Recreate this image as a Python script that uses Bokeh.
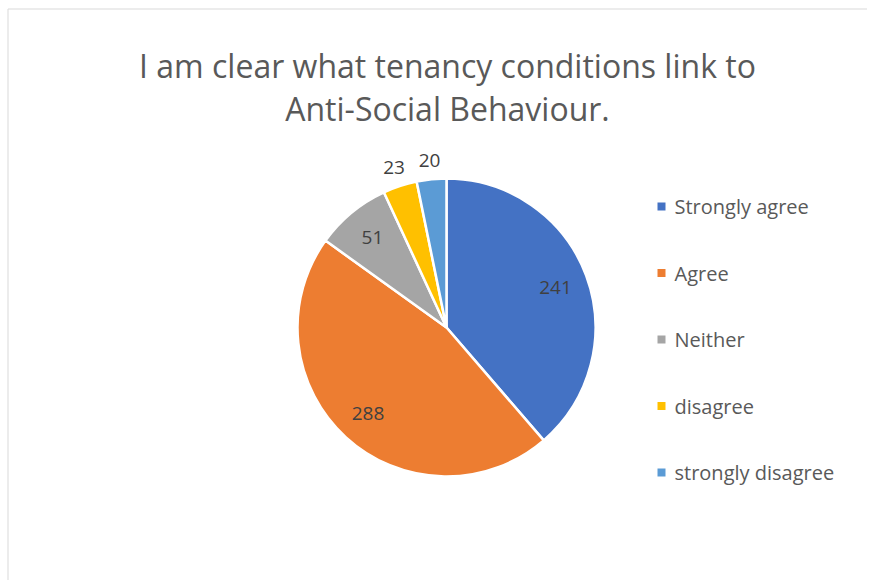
import numpy as np
from bokeh.plotting import figure
from bokeh.models import Range1d, ColumnDataSource
from bokeh.core.properties import value
from bokeh.embed import file_html
from bokeh.resources import INLINE

# ---- data ----
title_lines = ["I am clear what tenancy conditions link to", "Anti-Social Behaviour."]
categories = ["Strongly agree", "Agree", "Neither", "disagree", "strongly disagree"]
counts = [241, 288, 51, 23, 20]
colors = ["#4472C4", "#ED7D31", "#A5A5A5", "#FFC000", "#5B9BD5"]

W, H = 867, 580
FONT = "Open Sans"
TXT = "#595959"

p = figure(width=W, height=H, output_backend="svg", toolbar_location=None,
           x_range=Range1d(0, W), y_range=Range1d(0, H), min_border=0)
p.axis.visible = False
p.grid.visible = False
p.outline_line_color = None
p.background_fill_color = "white"

def Y(y):  # top-based pixel -> data
    return H - y

# chart border (left and top edges visible)
p.segment(x0=[7.5, 7.5], y0=[Y(8.5), Y(8.5)], x1=[7.5, W], y1=[0, Y(8.5)],
          line_color="#D9D9D9", line_width=1)

# pie
cx, cy, R = 446, Y(327), 149
vals = np.array(counts, dtype=float)
frac = vals / vals.sum()
cum_end = np.cumsum(frac)
cum_start = cum_end - frac
start = np.pi / 2 - cum_end * 2 * np.pi
end = np.pi / 2 - cum_start * 2 * np.pi
mid = (cum_start + cum_end) / 2
lab_r = np.where(frac < 0.05, R + 19, R * 0.78)
lx = cx + lab_r * np.sin(mid * 2 * np.pi)
ly = cy + lab_r * np.cos(mid * 2 * np.pi)

src = ColumnDataSource(dict(start=start, end=end, color=colors,
                            lx=lx, ly=ly, lab=[str(c) for c in counts]))
p.wedge(x=cx, y=cy, radius=R, radius_units="screen", start_angle="start",
        end_angle="end", fill_color="color", line_color="white", line_width=2.5,
        direction="anticlock", source=src)
p.text(x="lx", y="ly", text="lab", source=src, text_align="center",
       text_baseline="middle", text_font=value(FONT), text_font_size="19px",
       text_color="#404040")

# title
p.text(x=[447, 447], y=[Y(65), Y(108)], text=title_lines, text_align="center",
       text_baseline="alphabetic", text_font=value(FONT), text_font_size="32px",
       text_color=TXT)

# legend
ly0 = np.array([206 + 66.5 * i for i in range(len(categories))], dtype=float)
p.scatter(x=[661] * len(categories), y=H - ly0, marker="square", size=8,
          fill_color=colors, line_color=None)
p.text(x=[674] * len(categories), y=H - ly0, text=categories, text_align="left",
       text_baseline="middle", text_font=value(FONT), text_font_size="20px",
       text_color=TXT)

open("out.html", "w").write(file_html(p, INLINE))
